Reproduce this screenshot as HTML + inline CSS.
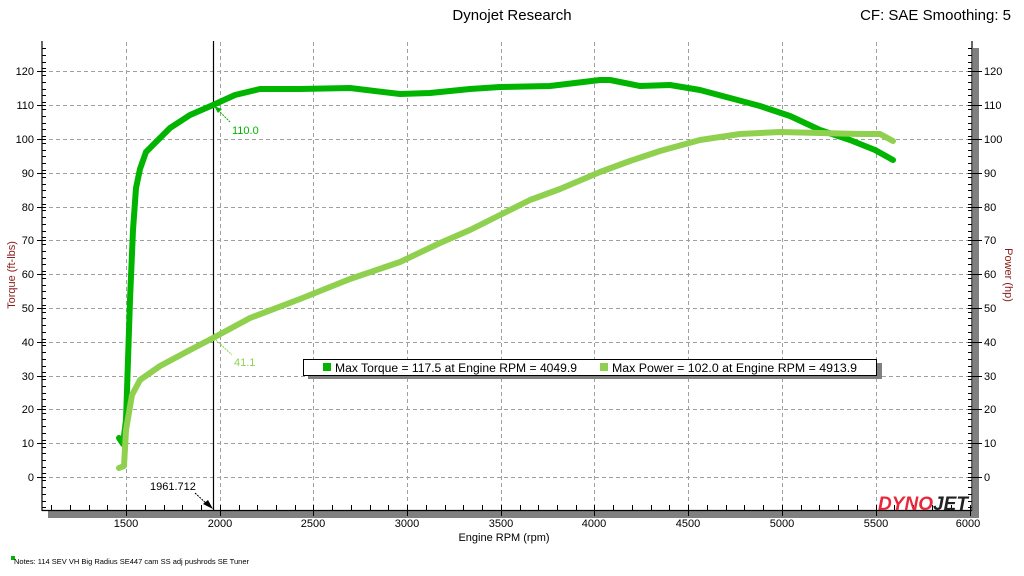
<!DOCTYPE html>
<html><head><meta charset="utf-8"><style>
body{margin:0;background:#fff;}
svg{display:block;font-family:"Liberation Sans",sans-serif;}
</style></head><body>
<svg width="1024" height="576" viewBox="0 0 1024 576" xmlns="http://www.w3.org/2000/svg">
<rect width="1024" height="576" fill="#fff"/>
<text x="512" y="20" font-size="15" text-anchor="middle" fill="#000">Dynojet Research</text>
<text x="1011" y="20" font-size="15" text-anchor="end" fill="#000">CF: SAE Smoothing: 5</text>
<rect x="973" y="48" width="6" height="470" fill="#808080"/>
<rect x="48" y="511" width="931" height="7" fill="#808080"/>
<g stroke="#a0a0a0" stroke-width="1" stroke-dasharray="4,3">
<line x1="42" x2="972" y1="71.5" y2="71.5"/><line x1="42" x2="972" y1="105.5" y2="105.5"/>
<line x1="42" x2="972" y1="139.5" y2="139.5"/><line x1="42" x2="972" y1="173.5" y2="173.5"/>
<line x1="42" x2="972" y1="207.5" y2="207.5"/><line x1="42" x2="972" y1="240.5" y2="240.5"/>
<line x1="42" x2="972" y1="274.5" y2="274.5"/><line x1="42" x2="972" y1="308.5" y2="308.5"/>
<line x1="42" x2="972" y1="342.5" y2="342.5"/><line x1="42" x2="972" y1="376.5" y2="376.5"/>
<line x1="42" x2="972" y1="409.5" y2="409.5"/><line x1="42" x2="972" y1="443.5" y2="443.5"/>
<line x1="42" x2="972" y1="477.5" y2="477.5"/>
<line y1="42" y2="510" x1="126.5" x2="126.5"/><line y1="42" y2="510" x1="220.5" x2="220.5"/>
<line y1="42" y2="510" x1="313.5" x2="313.5"/><line y1="42" y2="510" x1="407.5" x2="407.5"/>
<line y1="42" y2="510" x1="501.5" x2="501.5"/><line y1="42" y2="510" x1="594.5" x2="594.5"/>
<line y1="42" y2="510" x1="688.5" x2="688.5"/><line y1="42" y2="510" x1="782.5" x2="782.5"/>
<line y1="42" y2="510" x1="876.5" x2="876.5"/>
</g>
<g stroke="#000" stroke-width="1.2" fill="none">
<line x1="42" y1="41" x2="42" y2="511"/>
<line x1="972" y1="41" x2="972" y2="511"/>
<line x1="42" y1="510.5" x2="972" y2="510.5"/>
<line x1="213.5" y1="41" x2="213.5" y2="510"/>
</g>
<g stroke="#000" stroke-width="1">
<path d="M42 48.5h4M42 55.5h4M42 62.5h4M42 68.5h4M37 71.5h9M42 75.5h4M42 82.5h4M42 89.5h4M42 95.5h4M42 102.5h4M37 105.5h9M42 109.5h4M42 116.5h4M42 123.5h4M42 129.5h4M42 136.5h4M37 139.5h9M42 143.5h4M42 150.5h4M42 156.5h4M42 163.5h4M42 170.5h4M37 173.5h9M42 177.5h4M42 184.5h4M42 190.5h4M42 197.5h4M42 204.5h4M37 207.5h9M42 210.5h4M42 217.5h4M42 224.5h4M42 231.5h4M42 237.5h4M37 240.5h9M42 244.5h4M42 251.5h4M42 258.5h4M42 264.5h4M42 271.5h4M37 274.5h9M42 278.5h4M42 285.5h4M42 291.5h4M42 298.5h4M42 305.5h4M37 308.5h9M42 312.5h4M42 318.5h4M42 325.5h4M42 332.5h4M42 339.5h4M37 342.5h9M42 345.5h4M42 352.5h4M42 359.5h4M42 366.5h4M42 372.5h4M37 376.5h9M42 379.5h4M42 386.5h4M42 393.5h4M42 399.5h4M42 406.5h4M37 409.5h9M42 413.5h4M42 419.5h4M42 426.5h4M42 433.5h4M42 440.5h4M37 443.5h9M42 447.5h4M42 453.5h4M42 460.5h4M42 467.5h4M42 473.5h4M37 477.5h9M42 480.5h4M42 487.5h4M42 494.5h4M42 501.5h4M42 507.5h4"/>
</g>
<g stroke="#000" stroke-width="1" transform="translate(1014,0) scale(-1,1)">
<path d="M42 48.5h4M42 55.5h4M42 62.5h4M42 68.5h4M32 71.5h14M42 75.5h4M42 82.5h4M42 89.5h4M42 95.5h4M42 102.5h4M32 105.5h14M42 109.5h4M42 116.5h4M42 123.5h4M42 129.5h4M42 136.5h4M32 139.5h14M42 143.5h4M42 150.5h4M42 156.5h4M42 163.5h4M42 170.5h4M32 173.5h14M42 177.5h4M42 184.5h4M42 190.5h4M42 197.5h4M42 204.5h4M32 207.5h14M42 210.5h4M42 217.5h4M42 224.5h4M42 231.5h4M42 237.5h4M32 240.5h14M42 244.5h4M42 251.5h4M42 258.5h4M42 264.5h4M42 271.5h4M32 274.5h14M42 278.5h4M42 285.5h4M42 291.5h4M42 298.5h4M42 305.5h4M32 308.5h14M42 312.5h4M42 318.5h4M42 325.5h4M42 332.5h4M42 339.5h4M32 342.5h14M42 345.5h4M42 352.5h4M42 359.5h4M42 366.5h4M42 372.5h4M32 376.5h14M42 379.5h4M42 386.5h4M42 393.5h4M42 399.5h4M42 406.5h4M32 409.5h14M42 413.5h4M42 419.5h4M42 426.5h4M42 433.5h4M42 440.5h4M32 443.5h14M42 447.5h4M42 453.5h4M42 460.5h4M42 467.5h4M42 473.5h4M32 477.5h14M42 480.5h4M42 487.5h4M42 494.5h4M42 501.5h4M42 507.5h4"/>
</g>
<g stroke="#000" stroke-width="1">
<path d="M51.5 510v-5M70.5 510v-5M89.5 510v-5M107.5 510v-5M126.5 516v-11M145.5 510v-5M164.5 510v-5M182.5 510v-5M201.5 510v-5M220.5 516v-11M239.5 510v-5M257.5 510v-5M276.5 510v-5M295.5 510v-5M313.5 516v-11M332.5 510v-5M351.5 510v-5M370.5 510v-5M388.5 510v-5M407.5 516v-11M426.5 510v-5M445.5 510v-5M463.5 510v-5M482.5 510v-5M501.5 516v-11M520.5 510v-5M538.5 510v-5M557.5 510v-5M576.5 510v-5M594.5 516v-11M613.5 510v-5M632.5 510v-5M651.5 510v-5M669.5 510v-5M688.5 516v-11M707.5 510v-5M726.5 510v-5M744.5 510v-5M763.5 510v-5M782.5 516v-11M801.5 510v-5M819.5 510v-5M838.5 510v-5M857.5 510v-5M876.5 516v-11M894.5 510v-5M913.5 510v-5M932.5 510v-5M951.5 510v-5M970.5 516v-11"/>
</g>
<g font-size="11" fill="#000" text-anchor="end">
<text x="34" y="75">120</text><text x="34" y="109">110</text><text x="34" y="143">100</text>
<text x="34" y="177">90</text><text x="34" y="211">80</text><text x="34" y="244">70</text>
<text x="34" y="278">60</text><text x="34" y="312">50</text><text x="34" y="346">40</text>
<text x="34" y="380">30</text><text x="34" y="413">20</text><text x="34" y="447">10</text>
<text x="34" y="481">0</text>
</g>
<g font-size="11" fill="#000">
<text x="984" y="75">120</text><text x="984" y="109">110</text><text x="984" y="143">100</text>
<text x="984" y="177">90</text><text x="984" y="211">80</text><text x="984" y="244">70</text>
<text x="984" y="278">60</text><text x="984" y="312">50</text><text x="984" y="346">40</text>
<text x="984" y="380">30</text><text x="984" y="413">20</text><text x="984" y="447">10</text>
<text x="984" y="481">0</text>
</g>
<g font-size="11" fill="#000" text-anchor="middle">
<text x="126" y="527">1500</text><text x="220" y="527">2000</text><text x="313" y="527">2500</text>
<text x="407" y="527">3000</text><text x="501" y="527">3500</text><text x="594" y="527">4000</text>
<text x="688" y="527">4500</text><text x="782" y="527">5000</text><text x="876" y="527">5500</text>
<text x="968" y="527">6000</text>
<text x="504" y="541">Engine RPM (rpm)</text>
</g>
<text transform="translate(15,275) rotate(-90)" font-size="11" fill="#8b1a1a" text-anchor="middle">Torque (ft-lbs)</text>
<text transform="translate(1005,275) rotate(90)" font-size="11" fill="#8b1a1a" text-anchor="middle">Power (hp)</text>
<polyline fill="none" stroke="#00b400" stroke-width="6" stroke-linejoin="round" stroke-linecap="round"
points="119,438 123,444 126,420 130,300 133,230 136,188 140,169 146,152 155,143 170,128 190,115 213,105 235,95 260,89 300,89 350,88 400,94 430,93 470,89 500,87 550,86 600,80 610,80 640,86 670,85 700,90 730,98 760,106 790,116 820,130 850,140 875,150 893,160"/>
<polyline fill="none" stroke="#8fd14f" stroke-width="6" stroke-linejoin="round" stroke-linecap="round"
points="119,468 124,466 126,430 132,395 140,380 160,366 190,350 213,338 250,318 300,299 350,279 400,262 440,243 470,230 500,215 530,200 560,189 600,172 630,161 660,151 700,140 740,134 780,132 820,133 860,134 880,134 893,141"/>
<line x1="216" y1="108" x2="230" y2="122" stroke="#00b400" stroke-dasharray="2,1"/>
<polygon points="214,106 222,109 218,113" fill="#00b400"/>
<text x="232" y="134" font-size="11" fill="#00b400">110.0</text>
<line x1="216" y1="340" x2="232" y2="355" stroke="#8fd14f" stroke-dasharray="2,1"/>
<text x="234" y="366" font-size="11" fill="#8fd14f">41.1</text>
<line x1="195" y1="493" x2="208" y2="505" stroke="#000" stroke-dasharray="2,1"/>
<polygon points="213,509 203,504 208,500" fill="#000"/>
<text x="150" y="490" font-size="11" fill="#000">1961.712</text>
<rect x="308" y="363" width="574" height="16" fill="#808080"/>
<rect x="303.5" y="359.5" width="573" height="16" fill="#fff" stroke="#000"/>
<rect x="323" y="363" width="8" height="8" fill="#00b400"/>
<rect x="600" y="363" width="8" height="8" fill="#8fd14f"/>
<text x="335" y="372" font-size="11.5" fill="#000" textLength="242" lengthAdjust="spacingAndGlyphs">Max Torque = 117.5 at Engine RPM = 4049.9</text>
<text x="612" y="372" font-size="11.5" fill="#000" textLength="245" lengthAdjust="spacingAndGlyphs">Max Power = 102.0 at Engine RPM = 4913.9</text>
<text x="878" y="510" font-size="19" font-weight="bold" font-style="italic" fill="#e8283a" textLength="90" lengthAdjust="spacingAndGlyphs">DYNO<tspan fill="#222">JET</tspan></text>
<rect x="11" y="556" width="4" height="4" fill="#00b400"/>
<text x="14" y="564" font-size="7.5" fill="#000">Notes: 114 SEV VH Big Radius SE447 cam SS adj pushrods SE Tuner</text>
</svg>
</body></html>
